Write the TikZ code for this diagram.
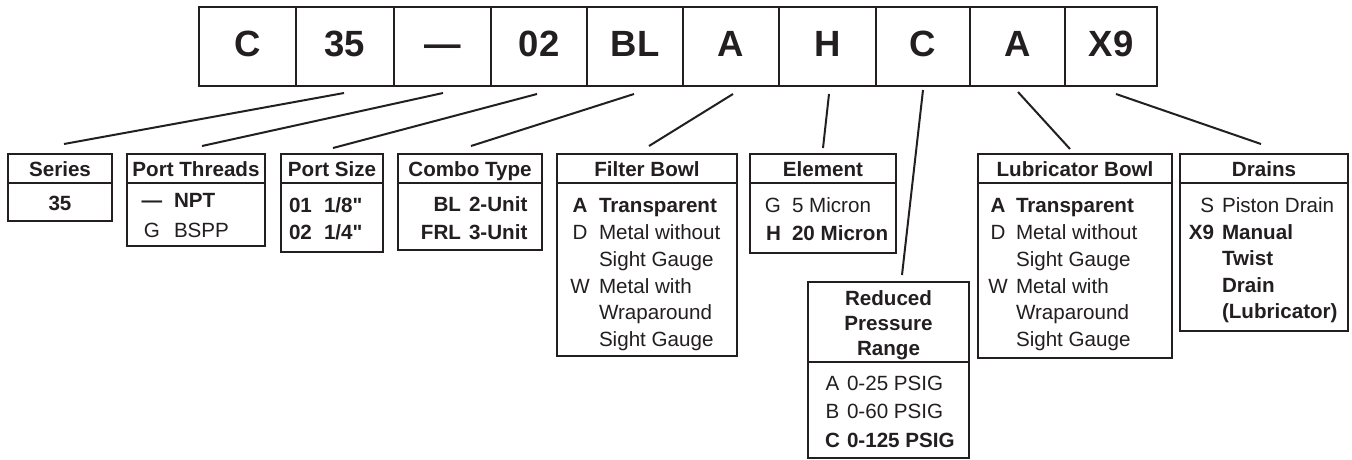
\documentclass[tikz,border=0pt]{standalone}
\usepackage{fontspec}
\setmainfont{Liberation Sans}[Ligatures=TeXOff]
\definecolor{ink}{HTML}{231F20}
\begin{document}
\begin{tikzpicture}[x=1pt, y=-1pt,
  every node/.style={inner sep=0pt, outer sep=0pt, text=ink},
  topbox/.style={draw=ink, line width=2.2pt, anchor=north west, minimum height=79pt,
    text height=24pt, text depth=3pt, font=\bfseries\fontsize{36.5}{40}\selectfont},
  frame/.style={draw=ink, line width=2.2pt, anchor=north west},
  rulel/.style={draw=ink, line width=2.2pt},
  conn/.style={draw=ink, line width=2pt},
  hdr/.style={anchor=base, font=\bfseries\fontsize{20.6}{25}\selectfont},
  sp/.style={font=\fontsize{20.6}{#1}\selectfont},
  codeC/.style={anchor=base},
  codeR/.style={anchor=base east},
  codeL/.style={anchor=base west},
  txt/.style={anchor=base west},
]
\useasboundingbox (0,0) rectangle (1352,460);
\fill[white] (0,0) rectangle (1352,460);

% top row
\node[topbox, minimum width=97pt] (t1) at (199,7) {C};
\node[topbox, minimum width=98pt] (t2) at (296,7) {35};
\node[topbox, minimum width=97pt] (t3) at (394,7) {—};
\node[topbox, minimum width=96pt] (t4) at (491,7) {02};
\node[topbox, minimum width=96pt] (t5) at (587,7) {BL};
\node[topbox, minimum width=96pt] (t6) at (683,7) {A};
\node[topbox, minimum width=97pt] (t7) at (779,7) {H};
\node[topbox, minimum width=94pt] (t8) at (876,7) {C};
\node[topbox, minimum width=95pt] (t9) at (970,7) {A};
\node[topbox, minimum width=92pt] (t10) at (1065,7) {X9};

% boxes
\node[frame, minimum width=104pt, minimum height=67pt] (ser) at (8,154) {};
\node[frame, minimum width=138pt, minimum height=92pt] (pth) at (127,154) {};
\node[frame, minimum width=102pt, minimum height=98pt] (psz) at (281,154) {};
\node[frame, minimum width=144pt, minimum height=96pt] (cmb) at (398,154) {};
\node[frame, minimum width=180pt, minimum height=202pt] (flt) at (557,154) {};
\node[frame, minimum width=146pt, minimum height=99pt] (elm) at (750,154) {};
\node[frame, minimum width=161pt, minimum height=176pt] (red) at (808,282) {};
\node[frame, minimum width=194pt, minimum height=204pt] (lub) at (978,154) {};
\node[frame, minimum width=168pt, minimum height=177pt] (drn) at (1180,154) {};

\foreach \b in {ser,pth,psz,cmb,flt,elm,lub,drn}
  \draw[rulel] ([yshift=-29pt]\b.north west) -- ([yshift=-29pt]\b.north east);
\draw[rulel] ([yshift=-80pt]red.north west) -- ([yshift=-80pt]red.north east);

% headers
\node[hdr] (serh) at ([yshift=-22pt]ser.north) {Series};
\node[hdr] (pthh) at ([yshift=-22pt]pth.north) {Port Threads};
\node[hdr] (pszh) at ([yshift=-22pt]psz.north) {Port Size};
\node[hdr] (cmbh) at ([yshift=-22pt]cmb.north) {Combo Type};
\node[hdr] (flth) at ([yshift=-22pt]flt.north) {Filter Bowl};
\node[hdr] (elmh) at ([yshift=-22pt]elm.north) {Element};
\node[hdr] (redh) at ([yshift=-23pt]red.north) {\begin{tabular}[t]{@{}c@{}}Reduced\\Pressure\\Range\end{tabular}};
\node[hdr] (lubh) at ([yshift=-22pt]lub.north) {Lubricator Bowl};
\node[hdr] (drnh) at ([yshift=-22pt]drn.north) {Drains};

% bodies
\node[hdr] (serv) at (60,210) {35};

\node[codeC, sp=30] (pthc) at (152,207) {\begin{tabular}[t]{@{}c@{}}\bfseries —\\G\end{tabular}};
\node[txt, sp=30] (ptht) at (174,207) {\begin{tabular}[t]{@{}l@{}}\bfseries NPT\\BSPP\end{tabular}};

\node[codeL, sp=27] (pszc) at (289,212) {\begin{tabular}[t]{@{}l@{}}\bfseries 01\\\bfseries 02\end{tabular}};
\node[txt, sp=27] (pszt) at (324,212) {\begin{tabular}[t]{@{}l@{}}\bfseries 1/8"\\\bfseries 1/4"\end{tabular}};

\node[codeR, sp=28] (cmbc) at (461,211) {\begin{tabular}[t]{@{}r@{}}\bfseries BL\\\bfseries FRL\end{tabular}};
\node[txt, sp=28] (cmbt) at (469,211) {\begin{tabular}[t]{@{}l@{}}\bfseries 2-Unit\\\bfseries 3-Unit\end{tabular}};

\node[codeC, sp=26.8] (fltc) at (580,212.7) {\begin{tabular}[t]{@{}c@{}}\bfseries A\\D\\ \\W\\ \\ \end{tabular}};
\node[txt, sp=26.8] (fltt) at (599,212.7) {\begin{tabular}[t]{@{}l@{}}\bfseries Transparent\\Metal without\\Sight Gauge\\Metal with\\Wraparound\\Sight Gauge\end{tabular}};

\node[codeR, sp=28] (elmc) at (781,212) {\begin{tabular}[t]{@{}r@{}}G\\\bfseries H\end{tabular}};
\node[txt, sp=28] (elmt) at (792,212) {\begin{tabular}[t]{@{}l@{}}5 Micron\\\bfseries 20 Micron\end{tabular}};

\node[codeC, sp=28.5] (redc) at (832.5,390) {\begin{tabular}[t]{@{}c@{}}A\\B\\\bfseries C\end{tabular}};
\node[txt, sp=28.5] (redt) at (847,390) {\begin{tabular}[t]{@{}l@{}}0-25 PSIG\\0-60 PSIG\\\bfseries 0-125 PSIG\end{tabular}};

\node[codeC, sp=26.8] (lubc) at (998,212.7) {\begin{tabular}[t]{@{}c@{}}\bfseries A\\D\\ \\W\\ \\ \end{tabular}};
\node[txt, sp=26.8] (lubt) at (1016,212.7) {\begin{tabular}[t]{@{}l@{}}\bfseries Transparent\\Metal without\\Sight Gauge\\Metal with\\Wraparound\\Sight Gauge\end{tabular}};

\node[codeR, sp=26.5] (drnc) at (1214,212.5) {\begin{tabular}[t]{@{}r@{}}S\\\bfseries X9\\ \\ \\ \end{tabular}};
\node[txt, sp=26.5] (drnt) at (1222,212.5) {\begin{tabular}[t]{@{}l@{}}Piston Drain\\\bfseries Manual\\\bfseries Twist\\\bfseries Drain\\\bfseries (Lubricator)\end{tabular}};

% connectors
\draw[conn] ([shift={(-1,7)}]t2.south) -- ([shift={(4,-10)}]ser.north);
\draw[conn] ([shift={(0.5,7)}]t3.south) -- ([shift={(6,-8)}]pth.north);
\draw[conn] ([shift={(-2,8)}]t4.south) -- ([shift={(1,-6)}]psz.north);
\draw[conn] ([shift={(-1,8)}]t5.south) -- ([shift={(1,-8)}]cmb.north);
\draw[conn] ([shift={(2,8)}]t6.south) -- ([shift={(2,-8)}]flt.north);
\draw[conn] ([shift={(1.5,8)}]t7.south) -- ([shift={(0,-6)}]elm.north);
\draw[conn] ([shift={(0,4)}]t8.south) -- ([shift={(13.5,-7)}]red.north);
\draw[conn] ([shift={(0.5,6)}]t9.south) -- ([shift={(-5,-5)}]lub.north);
\draw[conn] ([shift={(5,8)}]t10.south) -- ([shift={(-3,-10)}]drn.north);
\end{tikzpicture}
\end{document}
